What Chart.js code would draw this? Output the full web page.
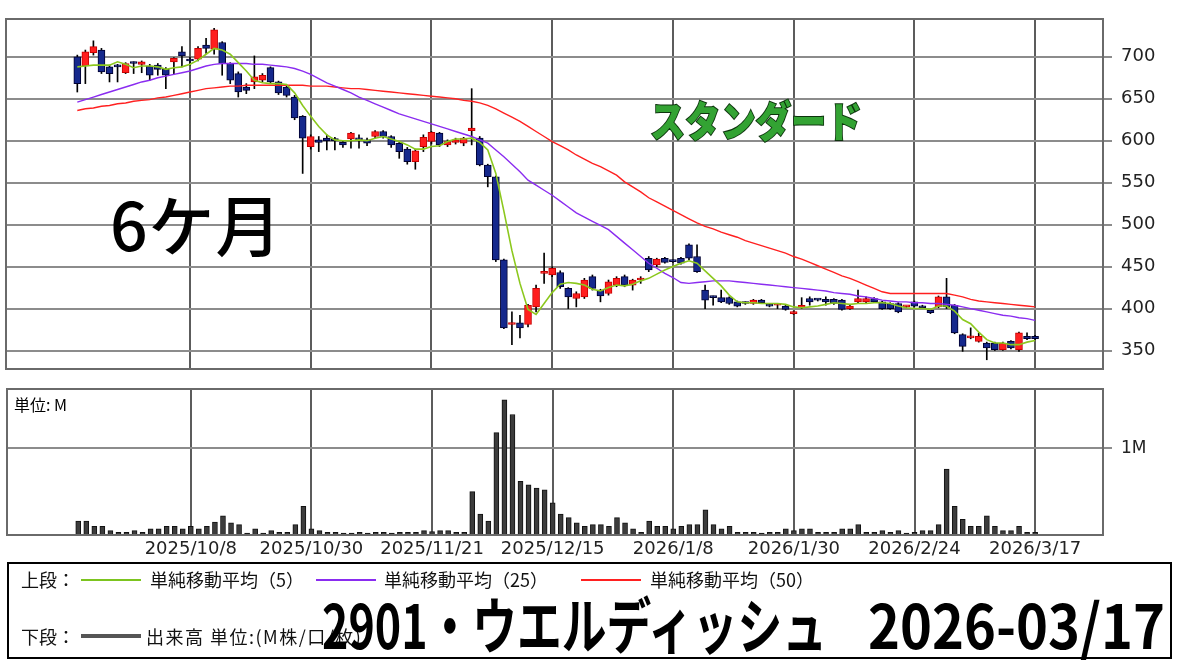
<!DOCTYPE html>
<html lang="ja">
<head>
<meta charset="utf-8">
<title>2901 ウエルディッシュ</title>
<script src="https://cdn.jsdelivr.net/npm/chart.js@4.4.1/dist/chart.umd.min.js"></script>
<style>
  body { margin: 0; background: #fff; width: 1180px; height: 663px; position: relative; overflow: hidden;
         font-family: "Noto Sans CJK JP", "DejaVu Sans", sans-serif; }
  canvas { position: absolute; left: 0; }
  #priceChart { top: 0; }
  #volChart { top: 380px; }
  .txt { position: absolute; white-space: nowrap; color: #000; }
  #term { left: 110px; top: 189px; font-size: 66px; font-weight: 500; line-height: 1; letter-spacing: 1px; }
  #market { left: 650px; top: 98px; font-size: 42px; font-weight: 900; line-height: 1; color: #33a333;
            -webkit-text-stroke: 2px #0d330d; paint-order: stroke fill; transform: scaleX(0.84); transform-origin: left top; }
  #unit { left: 14px; top: 396px; font-size: 16px; line-height: 1; }
  #legend { position: absolute; left: 7px; top: 562px; width: 1161px; height: 93px; border: 2px solid #000; }
  .lg { position: absolute; font-size: 18px; line-height: 1; color: #111; }
  .sw { position: absolute; height: 2px; }
  .big { top: 592px; font-size: 61px; font-weight: 700; line-height: 1; transform-origin: left top; }
  #title1 { left: 322px; }
  #title2 { left: 868px; }
</style>
</head>
<body>
<canvas id="priceChart" width="1180" height="380"></canvas>
<canvas id="volChart" width="1180" height="183"></canvas>

<div class="txt" id="term">6ケ月</div>
<div class="txt" id="market">スタンダード</div>
<div class="txt" id="unit">単位: M</div>

<div id="legend">
  <div class="lg" style="left:12px; top:6px;">上段：</div>
  <div class="sw" style="left:72px; top:15px; width:60px; background:#7cc41f;"></div>
  <div class="lg" style="left:141px; top:6px;">単純移動平均（5）</div>
  <div class="sw" style="left:307px; top:15px; width:60px; background:#8a2cf0;"></div>
  <div class="lg" style="left:375px; top:6px;">単純移動平均（25）</div>
  <div class="sw" style="left:572px; top:15px; width:60px; background:#ff2020;"></div>
  <div class="lg" style="left:641px; top:6px;">単純移動平均（50）</div>
  <div class="lg" style="left:12px; top:63px;">下段：</div>
  <div class="sw" style="left:72px; top:70px; width:60px; height:4px; background:#555;"></div>
  <div class="lg" style="left:137px; top:63px; letter-spacing:1.5px;">出来高 単位:(M株/口/枚)</div>
</div>
<div class="txt big" id="title1">2901・ウエルディッシュ</div>
<div class="txt big" id="title2">2026-03/17</div>

<script>
// tick positions (trading-day index) and their date labels
const tickIdx = [14, 29, 44, 59, 74, 89, 104, 119];
const tickLabels = ['2025/10/8', '2025/10/30', '2025/11/21', '2025/12/15',
                    '2026/1/8', '2026/1/30', '2026/2/24', '2026/3/17'];
const priceTicks = [350, 400, 450, 500, 550, 600, 650, 700];

// daily candles (one entry per trading day)
const open = [700,689,705,708,688,690,681,693,691,689,690,685,694,706,697,697,714,709,717,692,
  680,664,670,672,687,670,664,652,629,593,601,603,601,598,602,602,601,605,611,605,
  597,590,575,593,599,609,595,598,597,612,603,571,557,458,381,383,381,402,442,440,
  443,424,412,414,438,422,418,428,438,428,434,460,452,460,457,460,476,462,422,414,
  413,413,408,407,406,410,405,404,403,394,401,412,411,411,411,410,400,408,408,412,
  408,406,406,402,408,403,398,402,414,404,369,365,361,359,359,351,361,351,367,367];
const high = [702,708,719,710,690,691,693,694,695,691,692,687,699,712,700,712,722,734,718,693,
  682,668,701,680,688,671,666,654,630,607,605,607,604,600,610,607,603,612,612,606,
  598,592,590,607,611,610,601,603,604,662,605,572,558,459,396,392,405,428,466,450,
  445,425,420,436,440,423,434,438,440,435,438,462,460,461,458,461,477,476,428,415,
  422,414,409,408,411,411,406,405,404,397,413,414,411,414,412,411,404,422,414,413,
  409,407,407,403,409,404,399,415,436,405,370,377,371,360,360,360,362,372,371,368];
const low = [658,668,702,680,670,670,680,680,681,672,678,662,680,688,690,695,704,703,678,668,
  652,656,662,670,668,655,652,625,561,590,587,589,589,592,591,591,594,603,603,592,
  579,572,566,587,596,593,593,596,594,595,570,545,456,376,357,365,378,396,430,438,
  424,400,402,412,422,408,416,426,426,422,430,444,450,454,455,453,458,443,400,404,
  407,405,402,405,405,406,402,400,398,393,400,404,409,404,405,398,399,407,407,407,
  399,399,395,401,402,400,394,401,400,370,349,364,360,339,350,350,352,349,363,363];
const close = [668,706,712,682,680,688,692,692,694,678,685,678,698,701,695,710,710,732,692,672,
  658,660,676,678,670,657,654,627,603,605,598,600,600,595,609,601,597,611,605,595,
  587,575,588,604,610,595,599,601,603,615,571,557,458,377,381,377,404,424,442,448,
  426,414,418,434,424,415,432,436,428,434,436,446,459,455,456,454,460,444,410,413,
  408,406,403,406,410,407,403,404,399,396,404,408,410,408,406,399,403,412,412,408,
  400,400,396,402,403,401,395,414,402,371,355,367,367,353,351,359,353,371,364,364];

// moving averages as drawn on the chart
const ma5 = [688,689,690,690,690,694,691,687,689,689,688,685,687,688,691,696,703,710,708,703,
  693,683,672,669,668,668,667,657,642,629,617,607,601,600,600,601,600,603,605,602,
  599,595,590,590,593,594,599,602,602,603,598,589,561,516,469,430,399,393,406,419,
  429,431,430,428,423,421,425,428,427,429,433,436,441,446,450,454,457,454,445,436,
  427,416,408,407,407,406,406,406,405,402,401,402,403,405,407,406,405,406,406,407,
  407,406,403,401,400,400,399,403,403,397,387,382,372,363,359,359,357,357,360,362];
const ma25 = [646,649,652,655,658,661,664,667,670,672,675,677,679,681,683,686,689,691,692,692,
  692,692,691,691,690,689,688,686,683,679,674,669,665,661,657,652,648,644,640,636,
  632,629,626,623,620,617,614,611,608,605,601,597,589,581,572,563,553,547,541,535,
  528,521,514,509,504,499,494,486,478,470,462,454,448,442,437,431,430,431,432,433,
  433,433,432,431,430,429,428,427,426,425,424,423,422,421,419,418,417,415,414,412,
  410,409,408,408,407,407,406,406,405,404,402,400,398,396,394,392,391,389,388,386];
const ma50 = [636,638,639,641,642,644,645,647,648,649,651,652,654,656,658,660,662,663,664,665,
  665,666,666,666,666,666,666,666,666,665,665,665,664,663,662,662,661,660,659,658,
  657,656,655,654,653,652,651,650,648,647,645,642,638,633,628,623,617,611,605,599,
  594,589,583,578,573,569,564,559,551,545,539,532,527,522,517,512,507,502,498,495,
  491,488,485,481,478,475,472,469,466,462,459,455,451,447,443,439,436,432,428,424,
  420,418,418,418,418,418,418,418,418,416,414,411,409,408,407,406,405,404,403,402];

// volume in millions of shares
const volume = [0.16,0.16,0.10,0.10,0.05,0.03,0.03,0.05,0.03,0.07,0.07,0.10,0.10,0.07,0.10,0.07,0.10,0.15,0.22,0.14,
  0.12,0.01,0.07,0.01,0.05,0.03,0.03,0.12,0.33,0.07,0.05,0.03,0.03,0.01,0.01,0.03,0.01,0.03,0.03,0.01,
  0.03,0.03,0.03,0.05,0.04,0.05,0.05,0.03,0.03,0.50,0.24,0.16,1.18,1.56,1.39,0.62,0.58,0.54,0.52,0.37,
  0.24,0.20,0.14,0.10,0.12,0.12,0.10,0.20,0.14,0.07,0.03,0.16,0.10,0.10,0.07,0.10,0.12,0.12,0.29,0.12,
  0.07,0.10,0.03,0.03,0.03,0.01,0.03,0.03,0.07,0.05,0.07,0.07,0.03,0.03,0.03,0.07,0.07,0.12,0.03,0.03,
  0.05,0.03,0.05,0.01,0.03,0.05,0.05,0.12,0.76,0.33,0.18,0.10,0.10,0.22,0.10,0.05,0.05,0.10,0.03,0.03];

const X_MIN = -8.86, X_MAX = 127.44;
const UP = '#ff1e1e', DOWN = '#15288c';

const pts = arr => arr.map((v, i) => ({ x: i, y: v }));

// frame around the plot area
const framePlugin = {
  id: 'frame',
  afterDatasetsDraw(chart) {
    const a = chart.chartArea, ctx = chart.ctx;
    ctx.save();
    ctx.strokeStyle = '#6a6a6a';
    ctx.lineWidth = 2;
    ctx.strokeRect(a.left, a.top, a.right - a.left, a.bottom - a.top);
    ctx.restore();
  }
};

const xScale = (h) => ({
  type: 'linear', min: X_MIN, max: X_MAX, offset: false,
  afterBuildTicks: s => { s.ticks = tickIdx.map(v => ({ value: v })); },
  afterFit: s => { s.height = h; s.paddingLeft = 0; s.paddingRight = 0; },
  grid: { color: '#5c5c5c', lineWidth: 2, drawTicks: false, offset: false },
  border: { display: false }
});

const yFit = s => { s.width = 77; s.paddingTop = 0; s.paddingBottom = 0; };

const bodyColors = open.map((o, i) => close[i] >= o ? UP : DOWN);
const bodyBorders = open.map((o, i) => close[i] >= o ? '#c80000' : '#000030');

new Chart(document.getElementById('priceChart'), {
  type: 'bar',
  data: {
    datasets: [
      { type: 'line', data: pts(ma5), borderColor: '#8cc81e', borderWidth: 1.6, pointRadius: 0, tension: 0 },
      { type: 'line', data: pts(ma25), borderColor: '#8a2cf0', borderWidth: 1.4, pointRadius: 0, tension: 0 },
      { type: 'line', data: pts(ma50), borderColor: '#ff2020', borderWidth: 1.4, pointRadius: 0, tension: 0 },
      { data: open.map((o, i) => ({ x: i, y: [o, close[i]] })), backgroundColor: bodyColors,
        borderColor: bodyBorders, borderWidth: 1, borderSkipped: false, barThickness: 7, minBarLength: 2, grouped: false },
      { data: low.map((l, i) => ({ x: i, y: [l, high[i]] })), backgroundColor: '#000',
        barThickness: 1, grouped: false }
    ]
  },
  options: {
    responsive: false, animation: false, devicePixelRatio: 1,
    layout: { padding: { left: 6, top: 19, right: 0, bottom: 0 } },
    plugins: { legend: { display: false }, tooltip: { enabled: false } },
    scales: {
      x: Object.assign(xScale(11), { ticks: { display: false } }),
      y: {
        position: 'right', min: 328, max: 745,
        afterBuildTicks: s => { s.ticks = priceTicks.map(v => ({ value: v })); },
        afterFit: yFit,
        grid: { color: '#8c8c8c', lineWidth: 2, tickLength: 9, tickColor: '#8c8c8c' },
        border: { display: false },
        ticks: { color: '#222', font: { family: 'DejaVu Sans', size: 18 }, padding: 9 }
      }
    }
  },
  plugins: [framePlugin]
});

new Chart(document.getElementById('volChart'), {
  type: 'bar',
  data: {
    datasets: [
      { data: pts(volume), backgroundColor: '#3c3c3c', borderColor: '#111', borderWidth: 1,
        barThickness: 5, minBarLength: 2 }
    ]
  },
  options: {
    responsive: false, animation: false, devicePixelRatio: 1,
    layout: { padding: { left: 7, top: 9, right: 0, bottom: 0 } },
    plugins: { legend: { display: false }, tooltip: { enabled: false } },
    scales: {
      x: Object.assign(xScale(28), {
        ticks: { color: '#222', font: { family: 'DejaVu Sans', size: 18 }, padding: 4, maxRotation: 0,
                 autoSkip: false, callback: v => tickLabels[tickIdx.indexOf(v)] }
      }),
      y: {
        position: 'right', min: 0, max: 1.684,
        afterBuildTicks: s => { s.ticks = [{ value: 1 }]; },
        afterFit: yFit,
        grid: { color: '#8c8c8c', lineWidth: 2, tickLength: 9, tickColor: '#8c8c8c' },
        border: { display: false },
        ticks: { color: '#222', font: { family: 'DejaVu Sans', size: 17 }, padding: 9, callback: v => v + 'M' }
      }
    }
  },
  plugins: [framePlugin]
});

// squeeze the big title into the widths it takes in the picture
function fitWidth(id, w) {
  const el = document.getElementById(id);
  el.style.transform = 'none';
  const r = el.getBoundingClientRect().width;
  el.style.transform = 'scaleX(' + (w / r) + ')';
}
function fitTitle() { fitWidth('title1', 505); fitWidth('title2', 297); }
fitTitle();
if (document.fonts) document.fonts.ready.then(fitTitle);
</script>
</body>
</html>
